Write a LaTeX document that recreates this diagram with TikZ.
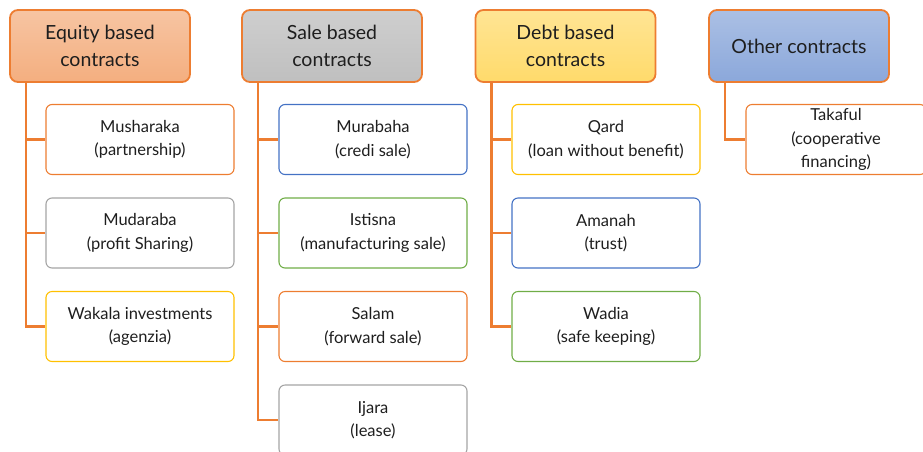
\documentclass[tikz,border=0pt]{standalone}
\usepackage{fontspec}
\setmainfont{Lato}
\usetikzlibrary{positioning}
\definecolor{ornge}{HTML}{ED7D31}
\definecolor{gry}{HTML}{A5A5A5}
\definecolor{yllw}{HTML}{FFC000}
\definecolor{blu}{HTML}{4472C4}
\definecolor{grn}{HTML}{70AD47}
\definecolor{ink}{HTML}{1E1E1E}

\begin{document}
\begin{tikzpicture}[x=1pt,y=1pt,node distance=93.5pt,on grid,
  head/.style={draw=ornge,line width=1.8pt,rounded corners=8pt,minimum width=180pt,
    minimum height=72pt,align=center,font=\fontsize{19.5}{27}\selectfont,text=ink},
  item/.style={draw=#1,line width=1.1pt,rounded corners=6pt,minimum width=188pt,
    minimum height=70pt,align=center,font=\fontsize{16.5}{23.5}\selectfont,text=ink},
  link/.style={draw=ornge,line width=2.6pt}]
  \useasboundingbox (0,0) rectangle (923,-451);
  \node[head,top color=ornge!45,bottom color=ornge!62]  (eq)  at (100,-46)     {Equity based\\contracts};
  \node[head,top color=gray!38,bottom color=gray!50]   (sale) [right=232pt of eq]   {Sale based\\contracts};
  \node[head,top color=yllw!42,bottom color=yllw!58]   (debt) [right=233.5pt of sale] {Debt based\\contracts};
  \node[head,top color=blu!45,bottom color=blu!62]     (oth)  [right=233.5pt of debt] {Other contracts};

  % equity based
  \node[item=ornge] (mush) [below right=93.5pt and 40pt of eq] {Musharaka\\(partnership)};
  \node[item=gry]   (muda) [below=of mush] {Mudaraba\\(profit Sharing)};
  \node[item=yllw]  (wak)  [below=of muda] {Wakala investments\\(agenzia)};
  % sale based
  \node[item=blu]   (mura) [below right=93.5pt and 41pt of sale] {Murabaha\\(credi sale)};
  \node[item=grn]   (ist)  [below=of mura] {Istisna\\(manufacturing sale)};
  \node[item=ornge] (sal)  [below=of ist]  {Salam\\(forward sale)};
  \node[item=gry]   (ija)  [below=of sal]  {Ijara\\(lease)};
  % debt based
  \node[item=yllw]  (qard) [below right=93.5pt and 40.5pt of debt] {Qard\\(loan without benefit)};
  \node[item=blu]   (ama)  [below=of qard] {Amanah\\(trust)};
  \node[item=grn]   (wad)  [below=of ama]  {Wadia\\(safe keeping)};
  % other
  \node[item=ornge,minimum width=180pt] (tak) [below right=93.5pt and 37pt of oth] {Takaful\\(cooperative\\financing)};

  \foreach \h/\c in {eq/mush,eq/muda,eq/wak,sale/mura,sale/ist,sale/sal,sale/ija,
                     debt/qard,debt/ama,debt/wad,oth/tak}
    \draw[link] ([xshift=17pt]\h.south west) |- (\c.west);
\end{tikzpicture}
\end{document}
